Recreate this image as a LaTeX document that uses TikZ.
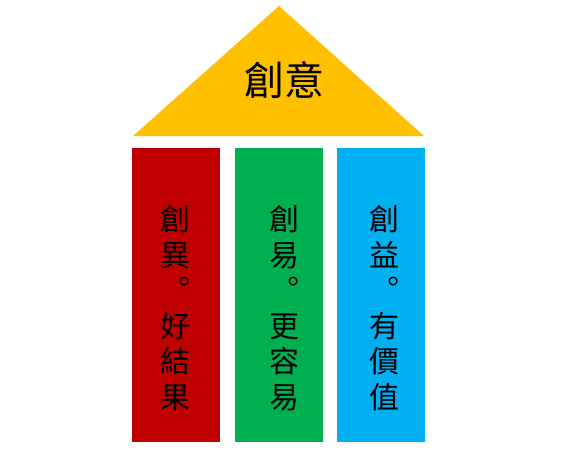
\documentclass[tikz,border=0pt]{standalone}
\usepackage{fontspec}
\newfontfamily\cjk{Noto Sans CJK TC}
\definecolor{roofc}{HTML}{FFC000}
\definecolor{redc}{HTML}{C00000}
\definecolor{greenc}{HTML}{00B050}
\definecolor{bluec}{HTML}{00B0F0}
\tikzset{
  pillar/.style={draw=none},
  coltext/.style={inner sep=0pt, align=center, text=black, font=\cjk\fontsize{30}{35.5}\selectfont},
  rooftext/.style={inner sep=0pt, text=black, font=\cjk\fontsize{40}{48}\selectfont}
}
\begin{document}
\begin{tikzpicture}[x=1pt,y=-1pt]
\useasboundingbox (0,0) rectangle (563,450);
% roof
\fill[roofc] (279,6) coordinate (apex) -- (424,136) -- (133,136) -- cycle;
\node[rooftext] (roof) at (284,80) {創意};
% pillars
\fill[redc] (132,148) rectangle (220,442);
\fill[greenc] (235,148) rectangle (323,442);
\fill[bluec] (337,148) rectangle (425,442);
\node[coltext] (t1) at (175,308) {創\\異\\︒\\好\\結\\果};
\node[coltext] (t2) at (284,308) {創\\易\\︒\\更\\容\\易};
\node[coltext] (t3) at (384,308) {創\\益\\︒\\有\\價\\值};
\end{tikzpicture}
\end{document}
